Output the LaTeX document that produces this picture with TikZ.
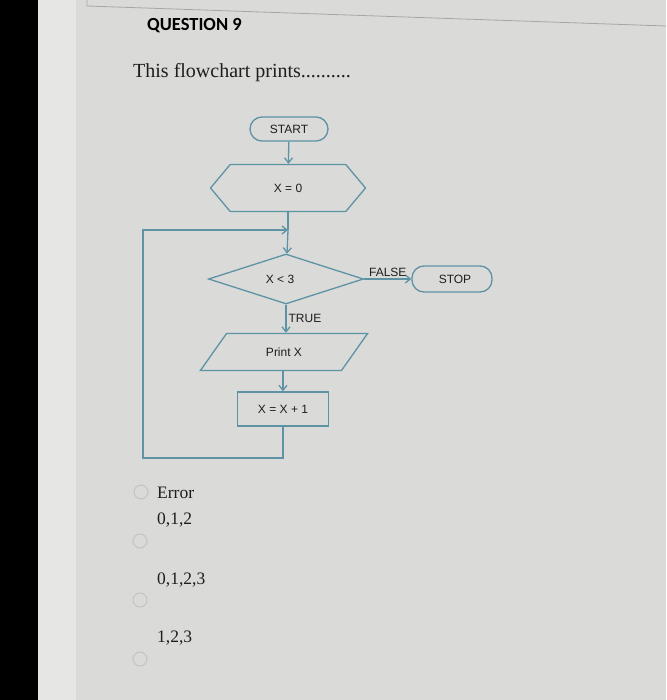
\documentclass[tikz,border=0pt]{standalone}
\usepackage{fontspec}
\setmainfont{Liberation Serif}
\setsansfont{Liberation Sans}
\newfontfamily\headfont{Carlito}
\usetikzlibrary{positioning, arrows.meta, shapes.geometric, shapes.symbols}
\definecolor{screengrey}{HTML}{DADAD8}
\definecolor{edgegrey}{HTML}{E6E6E4}
\definecolor{flowteal}{HTML}{5E93A6}
\definecolor{inkdark}{HTML}{1E1E1E}
\definecolor{radiogrey}{HTML}{C4C4C2}

\tikzset{
  flowbox/.style={draw=flowteal, line width=1.3pt, text=inkdark,
    font=\sffamily\fontsize{12}{14}\selectfont, inner sep=0pt},
  terminal/.style={flowbox, rectangle, rounded corners=12pt},
  arr/.style={draw=flowteal, line width=1.3pt, -{Straight Barb[length=5pt,width=8pt]}},
  flowlabel/.style={text=inkdark, font=\sffamily\fontsize{12}{14}\selectfont, inner sep=1pt},
  answer/.style={anchor=west, text=inkdark, font=\fontsize{17.5}{20}\selectfont, inner sep=0pt},
  radio/.style={draw=radiogrey, line width=1pt, circle, minimum size=14pt, inner sep=0pt}
}

\begin{document}
\begin{tikzpicture}[x=1pt, y=-1pt]
  % screen and frame
  \useasboundingbox (0,0) rectangle (666,700);
  \fill[screengrey] (0,0) rectangle (666,700);
  \fill[edgegrey] (38,0) rectangle (76,700);
  \fill[black] (0,0) rectangle (38,700);
  \draw[gray!70, line width=0.8pt] (87,0) -- (87,6) -- (666,26);

  % heading
  \node[anchor=west, text=black, font=\headfont\bfseries\fontsize{18.5}{21}\selectfont, inner sep=0pt]
    (qtitle) at (147,26) {QUESTION 9};
  \node[anchor=west, text=inkdark, font=\fontsize{20}{23}\selectfont, inner sep=0pt]
    (qtext) at (133,73) {This flowchart prints..........};

  % flowchart
  \node[terminal, minimum width=78pt, minimum height=24pt] (start) at (289,129) {START};
  \node[flowbox, signal, signal to=west and east, signal pointer angle=100,
        minimum width=155pt, minimum height=47pt] (init) at (288,188) {X = 0};
  \coordinate (join) at (288,230);
  \node[flowbox, diamond, aspect=3.1, minimum width=155pt, minimum height=50pt]
    (test) at (286,279) {X < 3\hspace*{12pt}};
  \node[terminal, minimum width=80pt, minimum height=26pt] (stop) at (452,279) {\hspace*{6pt}STOP};
  \node[flowbox, trapezium, trapezium left angle=47, trapezium right angle=133,
        trapezium stretches=true, minimum width=168pt, minimum height=37pt]
    (output) at (284,352) {Print X};
  \node[flowbox, rectangle, minimum width=91pt, minimum height=34pt] (incr) at (283,409) {X = X + 1};
  \coordinate (loopbot) at (143,458);

  \draw[arr] (start) -- (init);
  \draw[flowteal, line width=1.3pt] (init) -- (join);
  \draw[arr] (join) -- (test);
  \draw[arr] (test.east) -- node[flowlabel, above=1pt] {FALSE} (stop.west);
  \draw[arr] (test.south) -- node[flowlabel, right=1pt] {TRUE} (output.north -| test.south);
  \draw[arr] (output.south -| incr.north) -- (incr.north);
  \draw[arr] (incr.south) |- (loopbot) |- (join);

  % answers
  \node[radio] (optA) at (141,492) {};
  \node[radio] (optB) at (140,541) {};
  \node[radio] (optC) at (140,600) {};
  \node[radio] (optD) at (140,659) {};
  \node[answer] (ansA) at (157,493) {Error};
  \node[answer] (ansB) at (157,520) {0,1,2};
  \node[answer] (ansC) at (157,580) {0,1,2,3};
  \node[answer] (ansD) at (157,638) {1,2,3};
\end{tikzpicture}
\end{document}
